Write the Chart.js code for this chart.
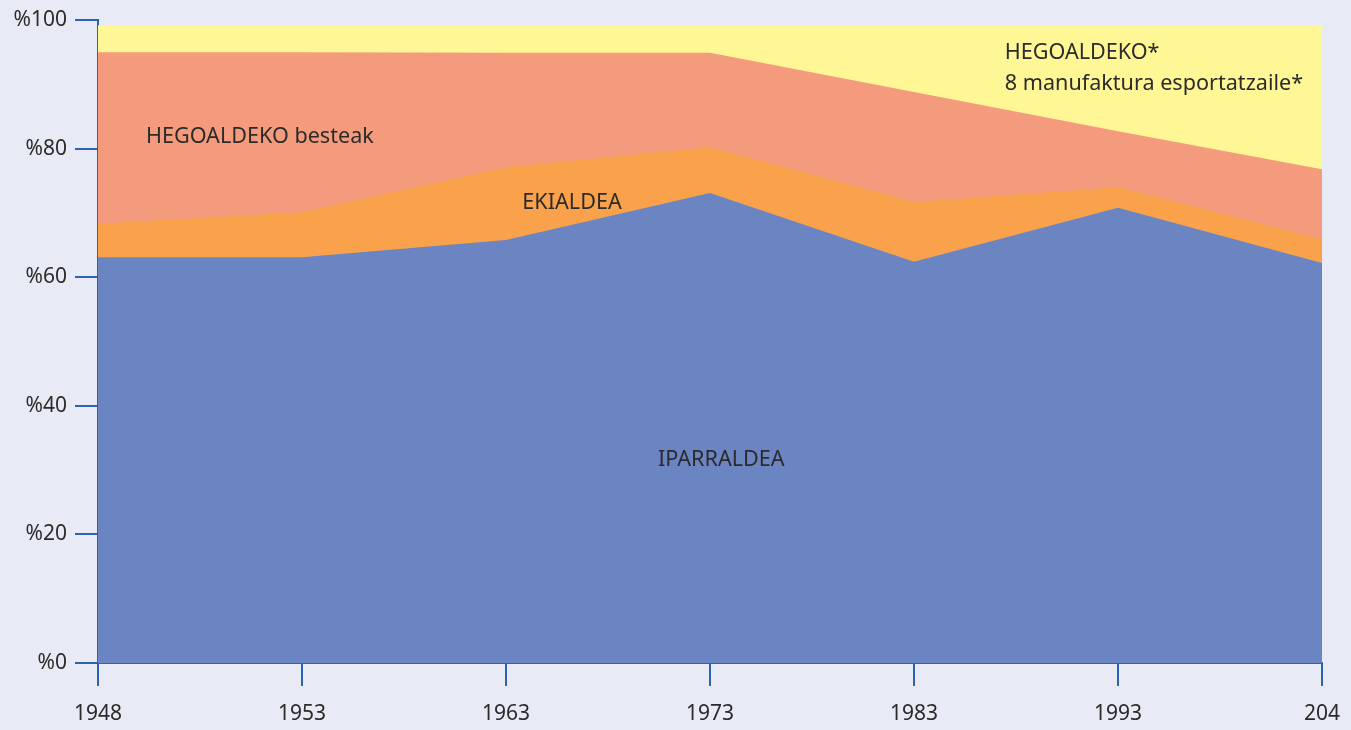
<!DOCTYPE html>
<html>
<head>
<meta charset="utf-8">
<script src="https://cdn.jsdelivr.net/npm/chart.js@4.4.1/dist/chart.umd.min.js"></script>
<style>
  html, body { margin: 0; padding: 0; background: #e8ebf5; }
  #wrap { width: 1351px; height: 730px; }
</style>
</head>
<body>
<div id="wrap"><canvas id="chartArea"></canvas></div>
<script>
// categories (last label is cut off in the original)
var years = ['1948', '1953', '1963', '1973', '1983', '1993', '204'];

// shares in percent, stacked bottom to top
var iparraldea = [63.1, 63.1, 65.8, 73.1, 62.4, 70.8, 62.2];
var ekialdea = [5.2, 7.0, 11.3, 7.1, 9.3, 3.2, 3.7];
var hegoaldekoBesteak = [26.7, 24.9, 17.8, 14.7, 17.1, 8.7, 10.9];
var hegoaldekoManuf = [4.2, 4.2, 4.3, 4.3, 10.4, 16.5, 22.4];

var yTicks = [0, 20, 40, 60, 80, 100];

// text labels placed in data coordinates (x = category index, y = percent)
var areaLabels = [
    { text: 'HEGOALDEKO besteak', x: 0.235, y: 81.8 },
    { text: 'EKIALDEA', x: 2.08, y: 71.5 },
    { text: 'IPARRALDEA', x: 2.745, y: 31.6 },
    { text: 'HEGOALDEKO*', x: 4.445, y: 94.9 },
    { text: '8 manufaktura esportatzaile*', x: 4.445, y: 90.0 }
];

var axisBlue = '#2a64b0';

var labelPlugin = {
    id: 'areaLabels',
    afterDatasetsDraw: function (chart) {
        var c = chart.ctx;
        var xs = chart.scales.x;
        var ys = chart.scales.y;
        c.save();
        c.fillStyle = '#2b2b2b';
        c.font = '21.6px "Noto Sans"';
        c.textAlign = 'left';
        c.textBaseline = 'middle';
        areaLabels.forEach(function (l) {
            c.fillText(l.text, xs.getPixelForValue(l.x), ys.getPixelForValue(l.y));
        });
        c.restore();
    }
};

function area(label, data, color) {
    return {
        label: label,
        data: data,
        backgroundColor: color,
        borderColor: color,
        borderWidth: 0,
        pointRadius: 0,
        fill: true,
        tension: 0
    };
}

var ctx = document.getElementById('chartArea').getContext('2d');
var myChart = new Chart(ctx, {
    type: 'line',
    data: {
        labels: years,
        datasets: [
            area('IPARRALDEA', iparraldea, '#6b84c2'),
            area('EKIALDEA', ekialdea, '#f9a24b'),
            area('HEGOALDEKO besteak', hegoaldekoBesteak, '#f59b7d'),
            area('HEGOALDEKO* 8 manufaktura esportatzaile*', hegoaldekoManuf, '#fff796')
        ]
    },
    options: {
        responsive: true,
        maintainAspectRatio: false,
        animation: false,
        layout: { padding: { top: 20, right: 29, left: 0, bottom: 0 } },
        plugins: {
            legend: { display: false },
            tooltip: { enabled: false }
        },
        scales: {
            x: {
                offset: false,
                grid: {
                    drawOnChartArea: false,
                    drawTicks: true,
                    tickLength: 23,
                    color: axisBlue,
                    lineWidth: 2
                },
                border: { display: true, color: axisBlue, width: 2 },
                ticks: {
                    color: '#2b2b2b',
                    font: { family: 'Noto Sans', size: 21 },
                    padding: 15,
                    maxRotation: 0,
                    autoSkip: false
                },
                afterFit: function (scale) {
                    scale.height = 67;
                    scale.paddingLeft = 0;
                    scale.paddingRight = 0;
                }
            },
            y: {
                stacked: true,
                min: 0,
                max: 100,
                afterBuildTicks: function (scale) {
                    scale.ticks = yTicks.map(function (v) { return { value: v }; });
                },
                grid: {
                    drawOnChartArea: false,
                    drawTicks: true,
                    tickLength: 23,
                    color: axisBlue,
                    lineWidth: 2
                },
                border: { display: true, color: axisBlue, width: 2 },
                ticks: {
                    color: '#2b2b2b',
                    font: { family: 'Noto Sans', size: 21 },
                    padding: 8,
                    callback: function (v) { return '%' + v; }
                },
                afterFit: function (scale) {
                    scale.width = 98;
                    scale.paddingTop = 0;
                    scale.paddingBottom = 0;
                }
            }
        }
    },
    plugins: [labelPlugin]
});
</script>
</body>
</html>
